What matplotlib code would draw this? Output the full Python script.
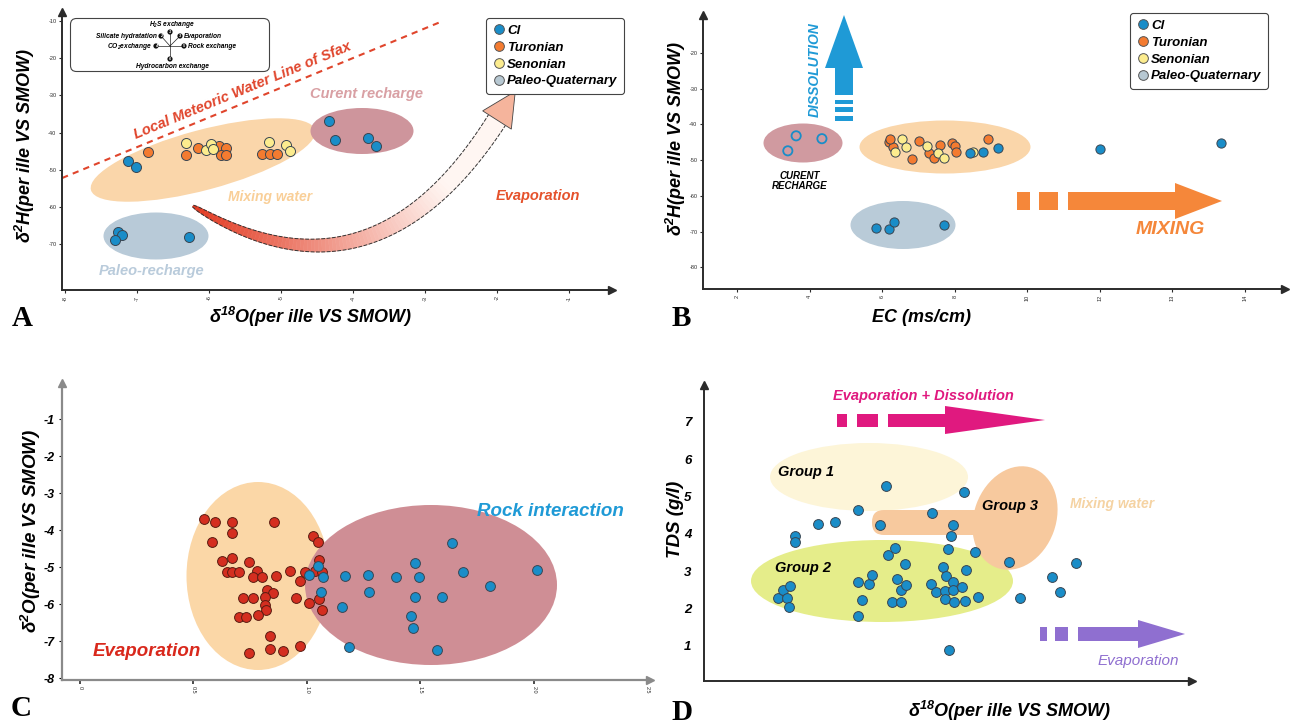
import numpy as np
import matplotlib
matplotlib.use("Agg")
import matplotlib.pyplot as plt
import matplotlib.transforms as mtransforms
from matplotlib.patches import Ellipse, Polygon, Rectangle, FancyBboxPatch, Circle
from matplotlib.lines import Line2D

W, H = 1310, 726

# ---------------- data ----------------
# A : d2H vs d18O
a_cl_x = [-7.13, -7.01, -7.26, -7.21, -7.31, -6.28, -4.33, -4.25, -3.79, -3.68]
a_cl_y = [-47.6, -49.2, -66.7, -67.5, -68.9, -68.1, -36.9, -42.0, -41.5, -43.6]
a_tur_x = [-6.85, -6.32, -6.15, -5.86, -5.76, -5.83, -5.76, -5.26, -5.15, -5.06]
a_tur_y = [-45.2, -46.0, -44.1, -43.6, -44.1, -46.0, -46.0, -45.8, -45.8, -45.8]
a_sen_x = [-6.32, -6.04, -5.97, -5.94, -5.17, -4.93, -4.87]
a_sen_y = [-42.8, -44.7, -43.1, -44.4, -42.5, -43.3, -44.9]
lmwl_x = [-8.04, -2.79]
lmwl_y = [-52.2, -10.3]
a_xticks = [-8, -7, -6, -5, -4, -3, -2, -1]
a_yticks = [-10, -20, -30, -40, -50, -60, -70]

# B : d2H vs EC
b_rec_x = [3.63, 4.34, 3.40]
b_rec_y = [-43.2, -44.0, -47.4]
b_pal_x = [5.83, 6.19, 6.32, 7.70]
b_pal_y = [-69.0, -69.3, -67.3, -68.2]
b_tur_x = [6.19, 6.30, 6.21, 7.01, 6.82, 7.29, 7.43, 7.59, 7.92, 8.01, 8.03, 8.91]
b_tur_y = [-44.9, -46.3, -44.1, -44.6, -49.7, -48.0, -49.4, -45.8, -45.2, -46.1, -47.7, -44.1]
b_sen_x = [6.55, 6.35, 6.66, 7.23, 7.54, 7.70, 8.50]
b_sen_y = [-44.1, -47.7, -46.3, -46.1, -48.0, -49.4, -47.7]
b_cl_x = [8.42, 8.78, 9.19, 12.0, 15.33]
b_cl_y = [-48.0, -47.7, -46.6, -46.9, -45.2]
b_xticks = [2, 4, 6, 8, 10, 12, 14, 16]
b_xlabels = ['2', '4', '6', '8', '10', '12', '13', '14']
b_yticks = [-20, -30, -40, -50, -60, -70, -80]

# C : d2O (evaporation / rock interaction)
c_evap_x = [0.546, 0.595, 0.670, 0.670, 0.581, 0.626, 0.670, 0.648, 0.670, 0.700,
            0.744, 0.780, 0.762, 0.802, 0.855, 0.863, 0.925, 0.969, 0.991, 1.026,
            1.048, 1.053, 1.035, 1.066, 0.824, 0.850, 0.815, 0.815, 0.819, 0.784,
            0.718, 0.762, 0.700, 0.731, 0.952, 1.009, 1.053, 1.066, 0.837, 0.744,
            0.837, 0.894, 0.969]
c_evap_y = [-3.70, -3.78, -3.78, -4.08, -4.32, -4.84, -4.76, -5.14, -5.14, -5.14,
            -4.86, -5.11, -5.27, -5.27, -3.78, -5.24, -5.11, -5.38, -5.14, -4.16,
            -4.32, -4.81, -5.11, -5.14, -5.62, -5.70, -5.81, -6.03, -6.16, -6.30,
            -5.84, -5.84, -6.35, -6.35, -5.84, -5.97, -5.86, -6.16, -6.86, -7.32,
            -7.22, -7.27, -7.14]
c_rock_x = [1.009, 1.048, 1.070, 1.062, 1.167, 1.154, 1.269, 1.273, 1.392, 1.476,
            1.493, 1.476, 1.458, 1.467, 1.595, 1.639, 1.687, 1.806, 2.013, 1.573, 1.185]
c_rock_y = [-5.22, -4.97, -5.27, -5.68, -5.24, -6.08, -5.22, -5.68, -5.27, -4.89,
            -5.27, -5.81, -6.32, -6.65, -5.81, -4.35, -5.14, -5.51, -5.08, -7.24, -7.16]
c_xticks = [0, 0.5, 1.0, 1.5, 2.0, 2.5]
c_xlabels = ['0', '0.5', '1.0', '1.5', '2.0', '2.5']
c_yticks = [-1, -2, -3, -4, -5, -6, -7, -8]

# D : TDS vs d18O
d_x = [1.48, 1.58, 1.66, 1.72, 1.70, 1.82, 1.82, 2.28, 2.62, 3.08, 3.52, 3.64,
       3.08, 3.16, 3.08, 3.30, 3.36, 3.68, 3.82, 3.86, 3.94, 4.02, 4.04, 3.76,
       3.94, 4.56, 4.98, 4.94, 4.88, 4.78, 4.84, 4.54, 4.64, 4.82, 4.82, 4.98,
       4.98, 5.00, 4.90, 5.20, 5.42, 5.24, 5.16, 5.22, 5.48, 6.10, 6.32, 6.96,
       7.12, 7.44]
d_y = [2.29, 2.50, 2.29, 2.61, 2.04, 3.95, 3.79, 4.27, 4.32, 4.64, 4.24, 5.29,
       2.71, 2.23, 1.80, 2.66, 2.90, 3.44, 3.63, 2.79, 2.50, 3.20, 2.63, 2.18,
       2.18, 4.56, 4.24, 3.95, 3.60, 3.12, 2.88, 2.66, 2.45, 2.47, 2.26, 2.71,
       2.50, 2.18, 0.89, 5.13, 3.52, 3.04, 2.58, 2.21, 2.31, 3.25, 2.29, 2.85,
       2.45, 3.22]
d_yticks = [1, 2, 3, 4, 5, 6, 7]

legend_labels = ['Cl', 'Turonian', 'Senonian', 'Paleo-Quaternary']

# colours
CL = '#1a8dc8'
TUR = '#f47b30'
SEN = '#fcec8e'
PAL = '#b7c8d2'
EDGE = '#3a4652'

plt.rcParams['font.family'] = 'Liberation Sans'
plt.rcParams['mathtext.default'] = 'regular'
plt.rcParams['axes.unicode_minus'] = False

fig = plt.figure(figsize=(W / 100, H / 100), dpi=100)
fig.patch.set_facecolor('white')

# pixel coordinates measured from the top-left corner of the picture
PX = mtransforms.Affine2D().scale(1, -1).translate(0, H)


def axes_px(l, t, r, b):
    return fig.add_axes([l / W, 1 - b / H, (r - l) / W, (b - t) / H])


def style_axes(ax, color='#2b2b2b', lw=1.4):
    for s in ['top', 'right']:
        ax.spines[s].set_visible(False)
    for s in ['left', 'bottom']:
        ax.spines[s].set_color(color)
        ax.spines[s].set_linewidth(lw)
    ax.plot(1, 0, '>', ms=6, color=color, transform=ax.transAxes, clip_on=False)
    ax.plot(0, 1, '^', ms=6, color=color, transform=ax.transAxes, clip_on=False)
    ax.patch.set_alpha(0)


def ptext(x, y, s, size=10, color='black', weight='bold', style='italic', **kw):
    fig.text(x, y, s, transform=PX, fontsize=size, color=color, fontweight=weight,
             fontstyle=style, ha=kw.pop('ha', 'center'), va=kw.pop('va', 'center'), **kw)


def blob(ax, cx, cy, w, h, color, angle=0, z=1):
    ax.add_patch(Ellipse((cx, cy), w, h, angle=angle, fc=color, ec='none',
                         transform=PX, clip_on=False, zorder=z))


def harrow(y, dashes, shaft, tip, hs, hh, color):
    for x0, x1 in dashes + [shaft]:
        fig.add_artist(Rectangle((x0, y - hs), x1 - x0, 2 * hs, fc=color, ec='none', transform=PX))
    fig.add_artist(Polygon([(shaft[1], y - hh), (tip, y), (shaft[1], y + hh)],
                           fc=color, ec='none', transform=PX))


def varrow(x, dashes, shaft, tip, hs, hh, color):
    for y0, y1 in dashes + [shaft]:
        fig.add_artist(Rectangle((x - hs, y0), 2 * hs, y1 - y0, fc=color, ec='none', transform=PX))
    fig.add_artist(Polygon([(x - hh, shaft[0]), (x, tip), (x + hh, shaft[0])],
                           fc=color, ec='none', transform=PX))


def small_ticks(ax):
    ax.tick_params(length=2.5, width=0.8, pad=1.5, labelsize=4, colors='#2b2b2b')


def legend_box(ax, x, y):
    handles = [Line2D([], [], marker='o', ls='', mfc=c, mec='#555555', mew=0.7, ms=7)
               for c in [CL, TUR, SEN, PAL]]
    leg = ax.legend(handles, legend_labels, loc='upper left', bbox_to_anchor=(x, y),
                    bbox_transform=PX, prop=dict(weight='bold', style='italic', size=9.5),
                    frameon=True, fancybox=True, edgecolor='#444444', framealpha=1,
                    handletextpad=0.1, labelspacing=0.35, borderpad=0.5,
                    handlelength=1.0, borderaxespad=0)
    leg.get_frame().set_linewidth(0.8)


# ================= A =================
axA = axes_px(62, 12, 612, 290)
axA.set_xlim(-8.042, -0.403)
axA.set_ylim(-82.3, -7.58)
style_axes(axA)
axA.set_xticks(a_xticks)
axA.set_xticklabels([str(v) for v in a_xticks], rotation=90)
axA.set_yticks(a_yticks)
small_ticks(axA)

blob(axA, 203, 160, 232, 60, '#fad6aa', angle=-15)
blob(axA, 362, 131, 103, 46, '#ce959c')
blob(axA, 156, 236, 105, 47, '#b8cad8')

axA.plot(lmwl_x, lmwl_y, color='#e0452c', lw=1.5, ls=(0, (3, 2.5)), clip_on=False, zorder=2)

# curved evaporation arrow
p0, p1, p2 = np.array([193., 206.]), np.array([372., 316.]), np.array([497., 120.])
t = np.linspace(0, 1, 90)
pts = ((1 - t) ** 2)[:, None] * p0 + (2 * (1 - t) * t)[:, None] * p1 + (t ** 2)[:, None] * p2
der = (2 * (1 - t))[:, None] * (p1 - p0) + (2 * t)[:, None] * (p2 - p1)
der /= np.linalg.norm(der, axis=1)[:, None]
nrm = np.column_stack([-der[:, 1], der[:, 0]])
hw = 1 + 9 * np.sqrt(t)
up = pts + nrm * hw[:, None]
lo = pts - nrm * hw[:, None]
c0 = np.array([226, 58, 34]) / 255
c1 = np.array([255, 246, 242]) / 255
for i in range(len(t) - 1):
    col = c0 + (c1 - c0) * min(1.0, t[i] / 0.8)
    axA.add_patch(Polygon([up[i], up[i + 1], lo[i + 1], lo[i]], fc=col, ec=col, lw=0.4,
                          transform=PX, clip_on=False, zorder=2))
axA.plot(up[:, 0], up[:, 1], color='#333333', lw=0.7, ls=(0, (4, 1.5)), transform=PX, clip_on=False, zorder=2)
axA.plot(lo[:, 0], lo[:, 1], color='#333333', lw=0.7, ls=(0, (4, 1.5)), transform=PX, clip_on=False, zorder=2)
tipA = p2 + der[-1] * 34
axA.add_patch(Polygon([p2 + nrm[-1] * 17, tipA, p2 - nrm[-1] * 17], fc='#f5b49c', ec='#444444',
                      lw=0.6, transform=PX, clip_on=False, zorder=2))

ms_kw = dict(s=52, edgecolors=EDGE, linewidths=0.7, zorder=4, clip_on=False)
axA.scatter(a_tur_x, a_tur_y, c=TUR, **ms_kw)
axA.scatter(a_sen_x, a_sen_y, c=SEN, **ms_kw)
axA.scatter(a_cl_x, a_cl_y, c=CL, **ms_kw)

# inset diagram
axA.add_patch(FancyBboxPatch((72, 20), 196, 50, boxstyle='round,pad=1.5,rounding_size=6',
                             fc='white', ec='#444444', lw=0.8, transform=PX, clip_on=False, zorder=3))
centre = (170, 46)
nodes = [(170, 32, '1'), (161, 36, '2'), (180, 36, '3'), (156, 46, '4'), (184, 46, '5'), (170, 59, '6')]
for nx, ny, lab in nodes:
    axA.plot([centre[0], nx], [centre[1], ny], color='#222222', lw=0.5, transform=PX, clip_on=False, zorder=4)
    axA.add_patch(Circle((nx, ny), 2.6, fc='#111111', ec='none', transform=PX, clip_on=False, zorder=5))
    ptext(nx, ny, lab, size=2.8, color='white')
inset_kw = dict(size=4.8)
ptext(172, 25, 'H$_2$S exchange', **inset_kw)
ptext(157, 36, 'Silicate hydratation', ha='right', **inset_kw)
ptext(184, 36, 'Evaporation', ha='left', **inset_kw)
ptext(152, 46, 'CO$_2$exchange', ha='right', **inset_kw)
ptext(188, 46, 'Rock exchange', ha='left', **inset_kw)
ptext(172, 66, 'Hydrocarbon exchange', **inset_kw)

legend_box(axA, 486, 18)

ptext(243, 91, 'Local Meteoric Water Line of Sfax', size=10.5, color='#e0452c', rotation=22.5,
      rotation_mode='anchor')
ptext(367, 94, 'Curent recharge', size=10.5, color='#d9a0a4')
ptext(270, 197, 'Mixing water', size=10, color='#f9cf98')
ptext(152, 271, 'Paleo-recharge', size=10.5, color='#b9cbdb')
ptext(538, 196, 'Evaporation', size=10.5, color='#e5522c')
ptext(25, 145, 'δ$^{2}$H(per ille VS SMOW)', size=13, rotation=90)
ptext(311, 317, 'δ$^{18}$O(per ille VS SMOW)', size=13)
ptext(22, 319, 'A', size=21, style='normal', family='Liberation Serif')

# ================= B =================
axB = axes_px(703, 15, 1285, 289)
axB.set_xlim(1.063, 17.1)
axB.set_ylim(-86.1, -9.36)
style_axes(axB)
axB.set_xticks(b_xticks)
axB.set_xticklabels(b_xlabels, rotation=90)
axB.set_yticks(b_yticks)
small_ticks(axB)

blob(axB, 803, 143, 79, 39, '#d09aa0')
blob(axB, 945, 147, 171, 53, '#fad6aa')
blob(axB, 903, 225, 105, 48, '#b9cbd8')

ms_b = dict(s=44, edgecolors=EDGE, linewidths=0.7, zorder=4)
axB.scatter(b_rec_x, b_rec_y, s=44, facecolors='none', edgecolors=CL, linewidths=1.3, zorder=4)
axB.scatter(b_pal_x, b_pal_y, c=CL, **ms_b)
axB.scatter(b_tur_x, b_tur_y, c=TUR, **ms_b)
axB.scatter(b_sen_x, b_sen_y, c=SEN, **ms_b)
axB.scatter(b_cl_x, b_cl_y, c=CL, **ms_b)

legend_box(axB, 1130, 13)

varrow(844, [(100, 104), (107, 112), (116, 121)], (68, 95), 15, 9, 19, '#1f9ad6')
ptext(815, 70, 'DISSOLUTION', size=10, color='#1f9ad6', rotation=90)
harrow(201, [(1017, 1030), (1039, 1058)], (1068, 1175), 1222, 9, 18, '#f5873a')
ptext(1170, 229, 'MIXING', size=14, color='#f5873a')
ptext(800, 181, 'CURENT\nRECHARGE', size=7, linespacing=1.1)
ptext(676, 138, 'δ$^{2}$H(per ille VS SMOW)', size=13, rotation=90)
ptext(922, 317, 'EC (ms/cm)', size=13)
ptext(681, 319, 'B', size=21, style='normal', family='Liberation Serif')

# ================= C =================
axC = axes_px(62, 383, 650, 680)
axC.set_xlim(-0.079, 2.511)
axC.set_ylim(-8.05, -0.027)
style_axes(axC, color='#8a8a8a', lw=1.6)
axC.set_xticks(c_xticks)
axC.set_xticklabels(c_xlabels, rotation=-90)
axC.set_yticks(c_yticks)
axC.tick_params(axis='x', length=3, width=1.2, pad=1.5, labelsize=4, colors='#2b2b2b')
axC.tick_params(axis='y', length=2, width=0.8, pad=3, labelsize=9)
for lab in axC.get_yticklabels():
    lab.set_fontweight('bold')
    lab.set_fontstyle('italic')

blob(axC, 258, 576, 143, 188, '#fbd7a7')
blob(axC, 431, 585, 252, 160, '#cf8e95', z=2)
axC.scatter(c_evap_x, c_evap_y, s=50, c='#d42e20', edgecolors='#5a1c12', linewidths=0.7, zorder=4)
axC.scatter(c_rock_x, c_rock_y, s=50, c=CL, edgecolors=EDGE, linewidths=0.7, zorder=4)

ptext(147, 652, 'Evaporation', size=13.5, color='#d9281c')
ptext(550, 512, 'Rock interaction', size=13.5, color='#1f9ad6')
ptext(31, 531, 'δ$^{2}$O(per ille VS SMOW)', size=13.5, rotation=90)
ptext(21, 709, 'C', size=21, style='normal', family='Liberation Serif')

# ================= D =================
axD = axes_px(704, 385, 1192, 681)
axD.set_xlim(0, 9.76)
axD.set_ylim(0.0625, 7.99)
style_axes(axD)
axD.set_xticks([])
axD.set_yticks(d_yticks)
axD.tick_params(axis='y', length=0, pad=9, labelsize=9.5)
for lab in axD.get_yticklabels():
    lab.set_fontweight('bold')
    lab.set_fontstyle('italic')

blob(axD, 869, 477, 198, 68, '#fdf5d8')
blob(axD, 882, 581, 262, 82, '#e5ed8a')
axD.add_patch(FancyBboxPatch((872, 510), 125, 25, boxstyle='round,pad=0,rounding_size=12',
                             fc='#f7c99e', ec='none', transform=PX, clip_on=False, zorder=1))
blob(axD, 1015, 518, 82, 106, '#f7c99e', angle=20)
axD.scatter(d_x, d_y, s=50, c=CL, edgecolors=EDGE, linewidths=0.7, zorder=4)

ptext(806, 472, 'Group 1', size=10.5)
ptext(803, 568, 'Group 2', size=10.5)
ptext(1010, 506, 'Group 3', size=10.5)
ptext(1112, 504, 'Mixing water', size=10, color='#f5d3a3')

harrow(420, [(837, 847), (857, 878)], (888, 945), 1045, 6.5, 14, '#e0197f')
ptext(923, 396, 'Evaporation + Dissolution', size=10.5, color='#e0197f')
harrow(634, [(1040, 1047), (1055, 1068)], (1078, 1138), 1185, 7, 14, '#8f6fd0')
ptext(1138, 661, 'Evaporation', size=11, color='#8f6fd0', weight='normal')

ptext(675, 519, 'TDS (g/l)', size=13.5, rotation=90)
ptext(1010, 711, 'δ$^{18}$O(per ille VS SMOW)', size=13)
ptext(682, 712, 'D', size=21, style='normal', family='Liberation Serif')

fig.savefig('out.png', dpi=100, facecolor='white')
